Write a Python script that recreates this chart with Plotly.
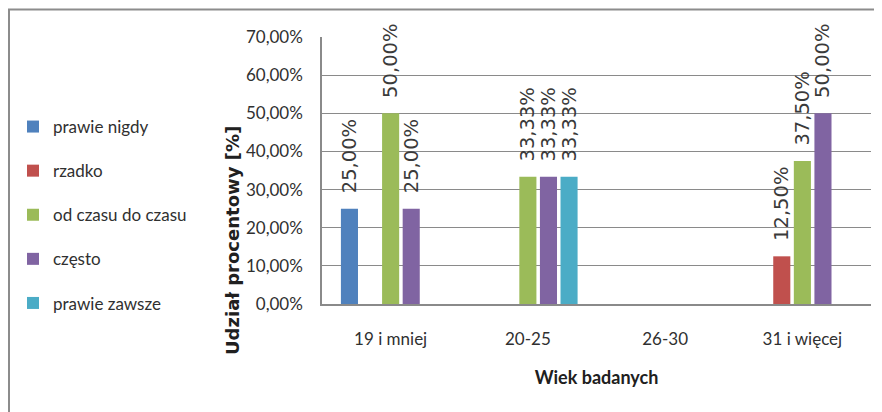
import plotly.graph_objects as go

categories = ["19 i mniej", "20-25", "26-30", "31 i więcej"]
series_names = ["prawie nigdy", "rzadko", "od czasu do czasu", "często", "prawie zawsze"]
prawie_nigdy = [0.25, None, None, None]
rzadko = [None, None, None, 0.125]
od_czasu_do_czasu = [0.50, 0.3333, None, 0.375]
czesto = [0.25, 0.3333, None, 0.50]
prawie_zawsze = [None, 0.3333, None, None]
series_values = [prawie_nigdy, rzadko, od_czasu_do_czasu, czesto, prawie_zawsze]
colors = ["#4F81BD", "#C0504D", "#9BBB59", "#8064A2", "#4BACC6"]

# page is rendered with an 8px body margin
OFF = 8
W, H = 882 - OFF, 412 - OFF
# plot area in page pixels: x 322..871, y 37..304
ML, MR, MT, MB = 322 - OFF, 882 - 871, 37 - OFF, 412 - 304
pw = W - ML - MR
ph = H - MT - MB

fig = go.Figure()
for name, vals, col in zip(series_names, series_values, colors):
    fig.add_trace(go.Bar(
        x=categories, y=vals, name=name, legendgroup=name,
        marker=dict(color=col, line=dict(width=0)),
        texttemplate="\u00a0\u00a0%{y:.2%}",
        textposition="outside", textangle=-90, constraintext="none",
        cliponaxis=False,
        textfont=dict(family="DejaVu Sans", size=19.5, color="#3a3a3a"),
        hoverinfo="skip",
    ))

def px_x(px):  # page pixel -> paper
    return (px - OFF - ML) / pw

def px_y(py):
    return (H - MB - (py - OFF)) / ph

fig.update_layout(
    width=W, height=H,
    margin=dict(l=ML, r=MR, t=MT, b=MB, autoexpand=False),
    paper_bgcolor="white", plot_bgcolor="white",
    separators=", ",
    barmode="group", bargap=0.25, bargroupgap=0.17,
    font=dict(family="Lato", size=17, color="#303030"),
    showlegend=True,
    legend=dict(x=px_x(13), y=px_y(109), xanchor="left", yanchor="top",
                tracegroupgap=19, font=dict(family="Lato", size=17, color="#303030"),
                bgcolor="rgba(0,0,0,0)"),
    xaxis=dict(
        showgrid=False, showline=True, linecolor="#8a8a8a", linewidth=1.5,
        ticks="", ticklabelstandoff=19,
        tickfont=dict(family="Lato", size=17, color="#303030"),
        title=dict(text="<b>Wiek badanych</b>", standoff=23,
                   font=dict(family="Lato", size=18, color="#202020")),
    ),
    yaxis=dict(
        range=[0, 0.70], dtick=0.1, tickformat=".2%",
        showgrid=True, gridcolor="#8a8a8a", gridwidth=1.3,
        showline=True, linecolor="#8a8a8a", linewidth=1.5,
        zeroline=False, ticks="", ticklabelstandoff=14,
        tickfont=dict(family="Lato", size=17, color="#303030"),
    ),
    annotations=[dict(
        text="<b>Udział procentowy [%]</b>", textangle=-90,
        xref="paper", yref="paper", x=px_x(232), y=px_y(241),
        xanchor="center", yanchor="middle", showarrow=False,
        font=dict(family="DejaVu Sans", size=18, color="#202020"),
    )],
    shapes=[dict(
        type="rect", xref="paper", yref="paper",
        x0=px_x(9), x1=px_x(900), y0=px_y(430), y1=px_y(9.5),
        line=dict(color="#8c8c8c", width=2), fillcolor="rgba(0,0,0,0)",
        layer="below",
    )],
)

fig.write_html("out.html")
